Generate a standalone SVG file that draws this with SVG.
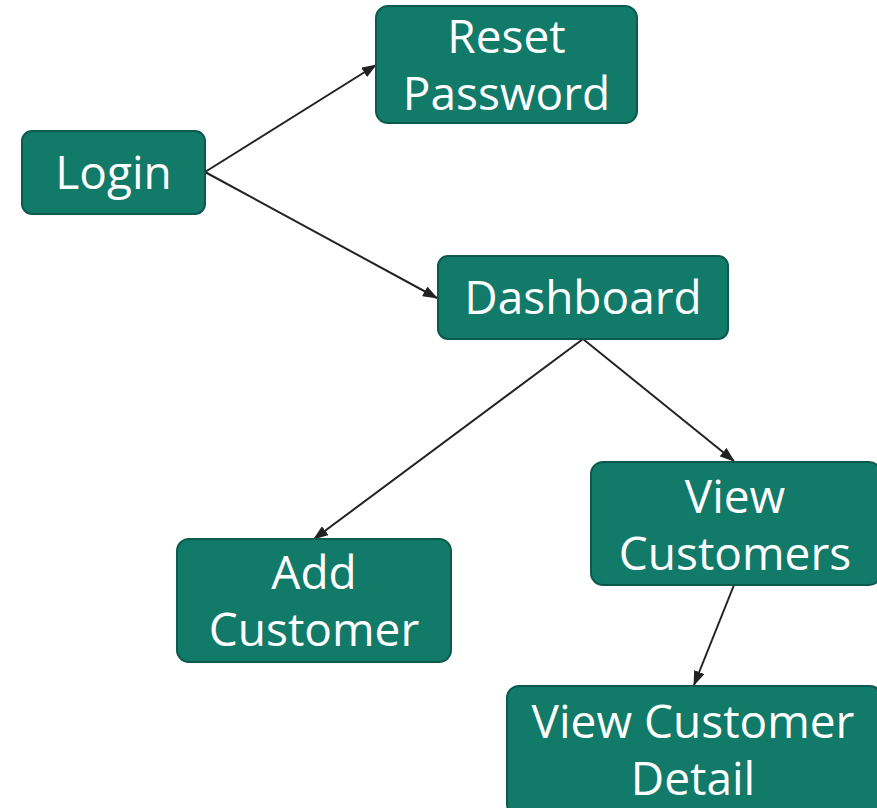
<svg xmlns="http://www.w3.org/2000/svg" width="877" height="808" viewBox="0 0 877 808">
<defs>
<marker id="ah" markerWidth="15" markerHeight="11" refX="14" refY="5.5" orient="auto" markerUnits="userSpaceOnUse" viewBox="0 0 15 11">
<path d="M0,0 L15,5.5 L0,11 Z" fill="#222"/>
</marker>
<style>
.node rect{fill:#117a69;stroke:#0c5a4e;stroke-width:2}
.node text{fill:#fff;font-family:"Open Sans","Noto Sans",sans-serif;font-size:46px;text-anchor:middle}
.edge{stroke:#222;stroke-width:2;fill:none;marker-end:url(#ah)}
</style>
</defs>
<rect width="877" height="808" fill="#fff"/>
<g id="connectors">
<path class="edge" d="M205,172 L376,65"/>
<path class="edge" d="M205,172 L437,298"/>
<path class="edge" d="M583,339 L314,539"/>
<path class="edge" d="M583,339 L734,461"/>
<path class="edge" d="M734,585 L694,685"/>
</g>
<g id="login" class="node">
<rect x="22" y="131" width="183" height="83" rx="10"/>
<text x="113.5" y="189">Login</text>
</g>
<g id="reset-password" class="node">
<rect x="376" y="6" width="261" height="117" rx="12"/>
<text x="506.5" y="53">Reset</text>
<text x="506.5" y="110">Password</text>
</g>
<g id="dashboard" class="node">
<rect x="438" y="256" width="290" height="83" rx="10"/>
<text x="583" y="314">Dashboard</text>
</g>
<g id="view-customers" class="node">
<rect x="591" y="462" width="290" height="123" rx="12"/>
<text x="735" y="513">View</text>
<text x="735" y="570">Customers</text>
</g>
<g id="add-customer" class="node">
<rect x="177" y="539" width="274" height="123" rx="12"/>
<text x="314" y="589">Add</text>
<text x="314" y="646">Customer</text>
</g>
<g id="view-customer-detail" class="node">
<rect x="507" y="686" width="375" height="130" rx="12"/>
<text x="693" y="738">View Customer</text>
<text x="693" y="795">Detail</text>
</g>
</svg>
